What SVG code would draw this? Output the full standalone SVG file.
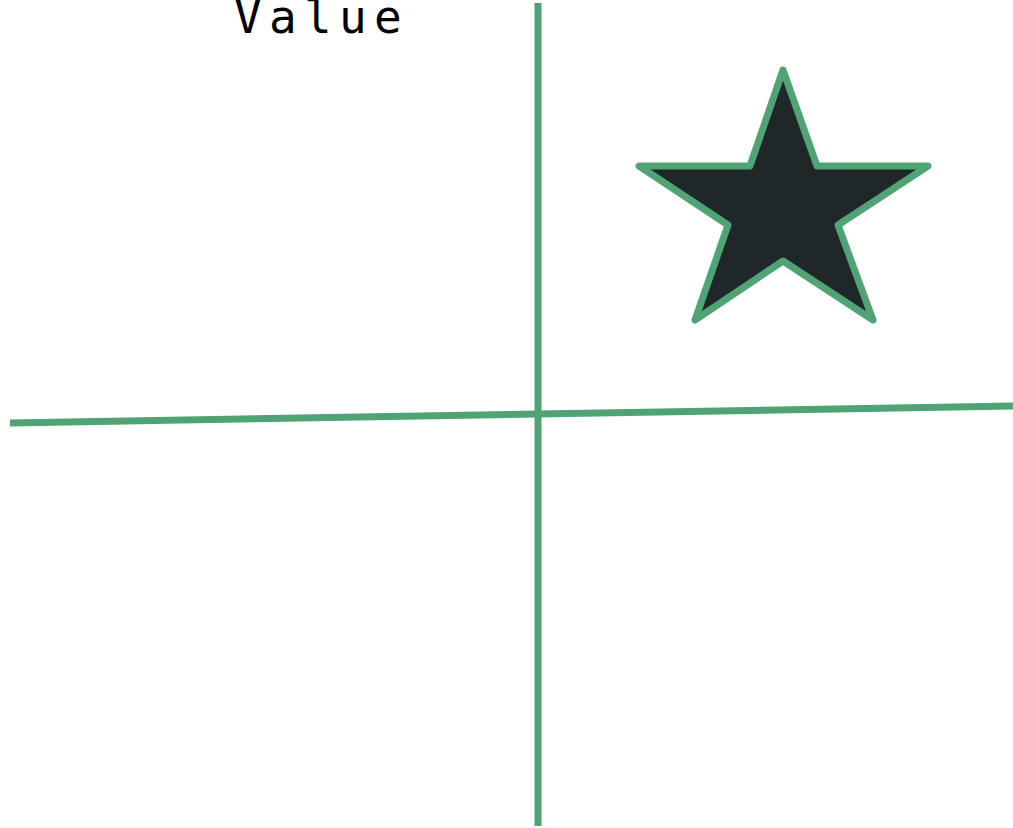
<svg xmlns="http://www.w3.org/2000/svg" width="1013" height="828" viewBox="0 0 1013 828">
<style>
.ax{stroke:#4fa374;stroke-width:7;fill:none}
.lbl{font-family:"DejaVu Sans Mono",monospace;font-size:46px;fill:#000}
</style>
<rect width="1013" height="828" fill="#fff"/>
<g id="connectors">
<line class="ax" x1="538" y1="3" x2="538" y2="826"/>
<line class="ax" x1="10" y1="423" x2="1013" y2="406"/>
</g>
<g id="label">
<text class="lbl" x="234" y="33" letter-spacing="7.3">Value</text>
</g>
<g id="star">
<polygon points="783,70 817,166 928,166 838,225 873,320 783,261 695,320 728,225 639,166 750,166" fill="#1f2728" stroke="#4fa374" stroke-width="7" stroke-linejoin="round"/>
</g>
</svg>
